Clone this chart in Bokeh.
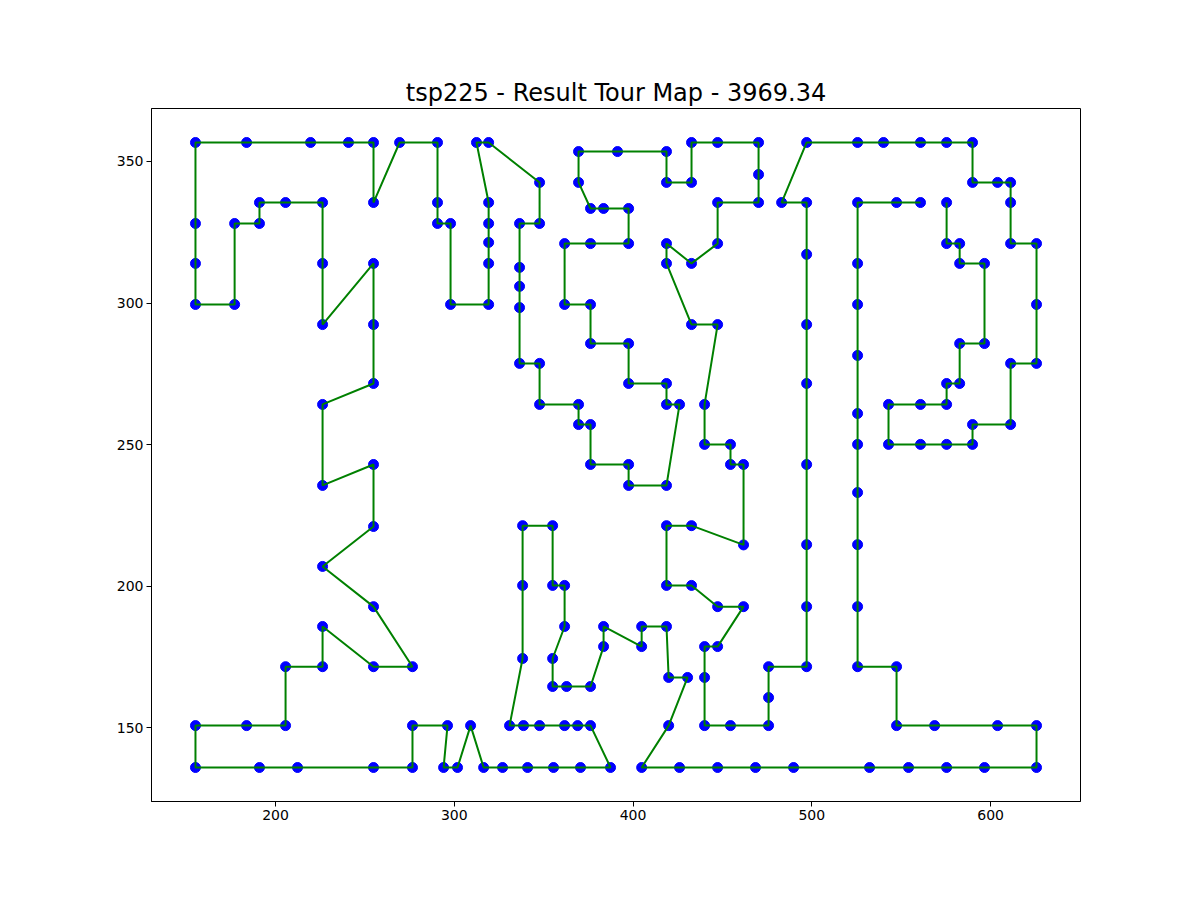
from bokeh.plotting import figure
from bokeh.models import Range1d, FixedTicker
from bokeh.embed import file_html
from bokeh.resources import INLINE

title_text = "tsp225 - Result Tour Map - 3969.34"

# city coordinates in tour order (open path)
tour_x = [
    560.8, 547.4, 525.6, 525.6, 525.6, 525.6, 525.6, 525.6, 525.6, 525.6,
    525.6, 525.6, 547.4, 547.4, 568.7, 603.9, 625.7, 625.7, 596.6, 575.4,
    554.1, 532.3, 489.8, 468.5, 447.3, 426.0, 404.8, 419.9, 430.5, 419.9,
    418.7, 404.8, 404.8, 383.5, 383.5, 376.2, 362.8, 355.0, 355.0, 361.7,
    361.7, 355.0, 355.0, 338.2, 338.2, 338.2, 330.9, 338.7, 347.7, 361.7,
    369.0, 376.2, 387.4, 370.6, 355.5, 341.0, 327.0, 316.4, 309.1, 301.8,
    294.0, 296.2, 276.6, 276.6, 254.8, 212.3, 191.0, 155.2, 155.2, 183.8,
    205.6, 205.6, 226.3, 226.3, 254.8, 276.6, 254.8, 226.3, 254.8, 254.8,
    226.3, 226.3, 254.8, 254.8, 254.8, 226.3, 226.3, 226.3, 205.6, 191.0,
    191.0, 177.1, 177.1, 155.2, 155.2, 155.2,
    155.2, 183.8, 219.6, 240.8, 254.8, 254.8, 269.4, 290.6, 290.6, 290.6,
    297.9, 297.9, 319.2, 319.2, 319.2, 319.2, 319.2, 312.4, 319.2, 347.7,
    347.7, 336.5, 336.5, 336.5, 336.5, 336.5, 347.7, 347.7, 369.5, 369.5,
    376.2, 376.2, 397.5, 397.5, 418.7, 426.0, 418.7, 418.7, 397.5, 397.5,
    376.2, 376.2, 361.7, 361.7, 376.2, 397.5, 397.5, 383.5, 376.2, 369.5,
    369.5, 391.3, 418.7, 418.7, 432.7, 432.7, 447.3, 470.2, 470.2, 470.2,
    447.3, 447.3, 432.7, 418.7, 418.7, 432.7, 447.3, 440.0, 440.0, 454.5,
    454.5, 461.8, 461.8, 432.7, 418.7, 418.7, 432.7, 447.3, 461.8, 447.3,
    440.0, 440.0, 440.0, 454.5, 475.8, 475.8, 475.8, 497.1, 497.1, 497.1,
    497.1, 497.1, 497.1, 497.1, 497.1, 483.1, 497.1, 525.6, 540.1, 560.8,
    575.4, 589.9, 589.9, 603.9, 611.2, 611.2, 611.2, 625.7, 625.7, 625.7,
    611.2, 611.2, 589.9, 589.9, 575.4, 560.8, 542.9, 542.9, 560.8, 575.4,
    575.4, 582.7, 582.7, 596.6, 596.6, 582.7, 582.7, 575.4, 575.4,
]
tour_y = [
    335.5, 335.5, 335.5, 314.0, 299.5, 281.5, 261.0, 250.1, 233.1, 214.7,
    192.8, 171.6, 171.6, 150.8, 150.8, 150.8, 150.8, 136.0, 136.0, 136.0,
    136.0, 136.0, 136.0, 136.0, 136.0, 136.0, 136.0, 150.8, 167.8, 167.8,
    185.8, 185.8, 178.7, 185.8, 178.7, 164.6, 164.6, 164.6, 174.5, 185.8,
    200.3, 200.3, 221.4, 221.4, 200.3, 174.5, 150.8, 150.8, 150.8, 150.8,
    150.8, 150.8, 136.0, 136.0, 136.0, 136.0, 136.0, 136.0, 150.8, 136.0,
    136.0, 150.8, 150.8, 136.0, 136.0, 136.0, 136.0, 136.0, 150.8, 150.8,
    150.8, 171.6, 171.6, 185.8, 171.6, 171.6, 192.8, 207.0, 221.1, 243.0,
    235.6, 264.2, 271.6, 292.4, 314.0, 292.4, 314.0, 335.5, 335.5, 335.5,
    328.1, 328.1, 299.5, 299.5, 314.0, 328.1,
    356.7, 356.7, 356.7, 356.7, 356.7, 335.5, 356.7, 356.7, 335.5, 328.1,
    328.1, 299.5, 299.5, 314.0, 321.4, 328.1, 335.5, 356.7, 356.7, 342.6,
    328.1, 328.1, 312.6, 305.9, 298.4, 278.7, 278.7, 264.2, 264.2, 257.1,
    257.1, 243.0, 243.0, 235.6, 235.6, 264.2, 264.2, 271.6, 271.6, 285.7,
    285.7, 299.5, 299.5, 321.0, 321.0, 321.0, 333.4, 333.4, 333.4, 342.6,
    353.5, 353.5, 353.5, 342.6, 342.6, 356.7, 356.7, 356.7, 345.4, 335.5,
    335.5, 321.0, 314.0, 321.0, 314.0, 292.4, 292.4, 264.2, 250.1, 250.1,
    243.0, 243.0, 214.6, 221.4, 221.4, 200.3, 200.3, 192.8, 192.8, 178.7,
    178.7, 167.8, 150.8, 150.8, 150.8, 160.7, 171.6, 171.6, 192.8, 214.7,
    243.0, 271.6, 292.4, 317.2, 335.5, 335.5, 356.7, 356.7, 356.7, 356.7,
    356.7, 356.7, 342.6, 342.6, 342.6, 335.5, 321.0, 321.0, 299.5, 278.7,
    278.7, 257.1, 257.1, 250.1, 250.1, 250.1, 250.1, 264.2, 264.2, 264.2,
    271.6, 271.6, 285.7, 285.7, 314.0, 314.0, 321.0, 321.0, 335.5,
]

x_ticks = [200, 300, 400, 500, 600]
y_ticks = [150, 200, 250, 300, 350]

p = figure(
    width=1200, height=900,
    output_backend="svg", toolbar_location=None,
    x_range=Range1d(130.6, 650.3), y_range=Range1d(124.0, 368.7),
    min_border_left=151, min_border_right=120,
    min_border_top=108, min_border_bottom=99,
    title=title_text,
)
p.title.align = "center"
p.title.text_font = "DejaVu Sans"
p.title.text_font_size = "24px"
p.title.text_font_style = "normal"
p.title.text_color = "black"
p.title.standoff = 4

p.background_fill_color = "white"
p.border_fill_color = "white"
p.outline_line_color = "black"
p.outline_line_width = 1
p.outline_line_alpha = 1
p.xgrid.visible = False
p.ygrid.visible = False

for ax, ticks in ((p.xaxis, x_ticks), (p.yaxis, y_ticks)):
    ax.ticker = FixedTicker(ticks=ticks)
    ax.major_tick_in = 0
    ax.major_tick_out = 5
    ax.minor_tick_line_color = None
    ax.major_label_text_font = "DejaVu Sans"
    ax.major_label_text_font_size = "14px"
    ax.major_label_text_color = "black"
    ax.axis_line_color = "black"
    ax.major_tick_line_color = "black"
    ax.major_label_standoff = 3

p.scatter(tour_x, tour_y, size=10, fill_color="#0000ff", line_color="#0000ff")
p.line(tour_x, tour_y, line_color="#008000", line_width=2)

open("out.html", "w").write(file_html(p, INLINE))
